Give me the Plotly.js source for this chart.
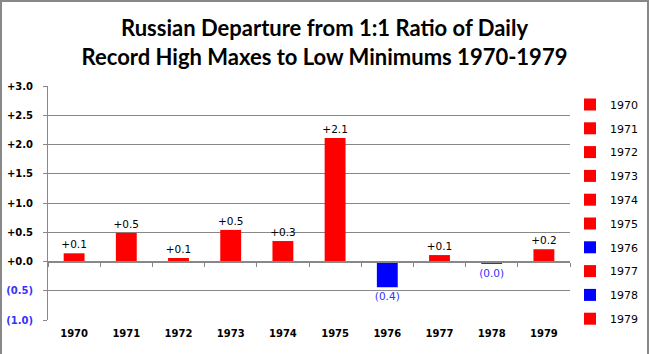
<!DOCTYPE html>
<html>
<head>
<meta charset="utf-8">
<script src="https://cdn.plot.ly/plotly-3.0.1.min.js"></script>
<style>
  html, body { margin: 0; padding: 0; background: #fff; }
  #wrap { position: relative; width: 649px; height: 354px; overflow: hidden; }
  #chart { position: absolute; left: 0; top: 0; width: 649px; height: 354px; }
  #frame { position: absolute; left: 0; top: 0; width: 645px; height: 360px;
           border: 2px solid #888; pointer-events: none; }
</style>
</head>
<body>
<div id="wrap">
  <div id="chart"></div>
  <div id="frame"></div>
</div>
<script>
// ---- data ----
const years = ['1970','1971','1972','1973','1974','1975','1976','1977','1978','1979'];
const departure = [0.14, 0.49, 0.06, 0.54, 0.35, 2.11, -0.44, 0.11, -0.04, 0.21];
const yTickVals = [3.0, 2.5, 2.0, 1.5, 1.0, 0.5, 0.0, -0.5, -1.0];
const yTickText = ['+3.0','+2.5','+2.0','+1.5','+1.0','+0.5','+0.0','(0.5)','(1.0)'];

const RED = '#FF0000', BLUE = '#0000FF', NEGTXT = '#3333FF';

function fmt(v) {
  const a = Math.abs(v).toFixed(1);
  return v < 0 ? '(' + a + ')' : '+' + a;
}

const traces = years.map((yr, i) => ({
  type: 'bar',
  name: yr,
  x: [yr],
  y: [departure[i]],
  width: 0.4,
  marker: { color: departure[i] < 0 ? BLUE : RED },
  text: [fmt(departure[i])],
  textposition: 'outside',
  constraintext: 'none',
  cliponaxis: false,
  textfont: { family: 'DejaVu Sans', size: 10.5, color: departure[i] < 0 ? NEGTXT : '#000' },
  legendgroup: yr,
  hoverinfo: 'x+y'
}));

const ticktext = yTickText.map((t, i) =>
  yTickVals[i] < 0 ? '<span style="color:' + NEGTXT + '"><b>' + t + '</b></span>' : '<b>' + t + '</b>');

const layout = {
  width: 649, height: 354,
  margin: { l: 48, r: 72, t: 86, b: 34 },
  paper_bgcolor: '#fff', plot_bgcolor: '#fff',
  barmode: 'overlay',
  showlegend: true,
  title: {
    text: 'Russian Departure from 1:1 Ratio of Daily<br>Record High Maxes to Low Minimums 1970-1979',
    font: { family: 'Lato', size: 22, color: '#000', weight: 700 },
    x: 0.5, xanchor: 'center', xref: 'container',
    y: 1 - 36 / 354, yanchor: 'top', yref: 'container'
  },
  xaxis: {
    type: 'category',
    categoryorder: 'array', categoryarray: years,
    range: [-0.5, 9.5],
    showline: false, showgrid: false, zeroline: false,
    ticks: '', ticklabelstandoff: 6,
    tickfont: { family: 'DejaVu Sans', size: 10, color: '#000', weight: 700 },
    fixedrange: true
  },
  xaxis2: {
    overlaying: 'x', anchor: 'free', position: 0.25,
    type: 'linear', range: [-0.5, 9.5],
    tickvals: [-0.5,0.5,1.5,2.5,3.5,4.5,5.5,6.5,7.5,8.5,9.5],
    showticklabels: false, ticks: 'outside', ticklen: 4, tickwidth: 1, tickcolor: '#888',
    showline: true, linecolor: '#888', linewidth: 2,
    showgrid: false, zeroline: false, fixedrange: true
  },
  yaxis: {
    range: [-1, 3],
    tickvals: yTickVals, ticktext: ticktext,
    tickfont: { family: 'DejaVu Sans', size: 10, color: '#000' },
    ticks: 'outside', ticklen: 4, tickcolor: '#888',
    showline: true, linecolor: '#888', linewidth: 1,
    showgrid: true, gridcolor: '#888', gridwidth: 1,
    zeroline: false, ticklabelstandoff: 8,
    fixedrange: true
  },
  legend: {
    x: 570 / 649, xref: 'container', xanchor: 'left',
    y: 1 - 90 / 354, yref: 'container', yanchor: 'top',
    font: { family: 'DejaVu Sans', size: 11, color: '#000' },
    tracegroupgap: 4.8, itemwidth: 30, maxheight: 1,
    bgcolor: 'rgba(0,0,0,0)', borderwidth: 0
  }
};

// dummy invisible trace to register xaxis2
traces.push({ type: 'scatter', x: [null], y: [null], xaxis: 'x2', yaxis: 'y', showlegend: false, hoverinfo: 'skip' });

Plotly.newPlot('chart', traces, layout, { displayModeBar: false, staticPlot: true });
</script>
</body>
</html>
